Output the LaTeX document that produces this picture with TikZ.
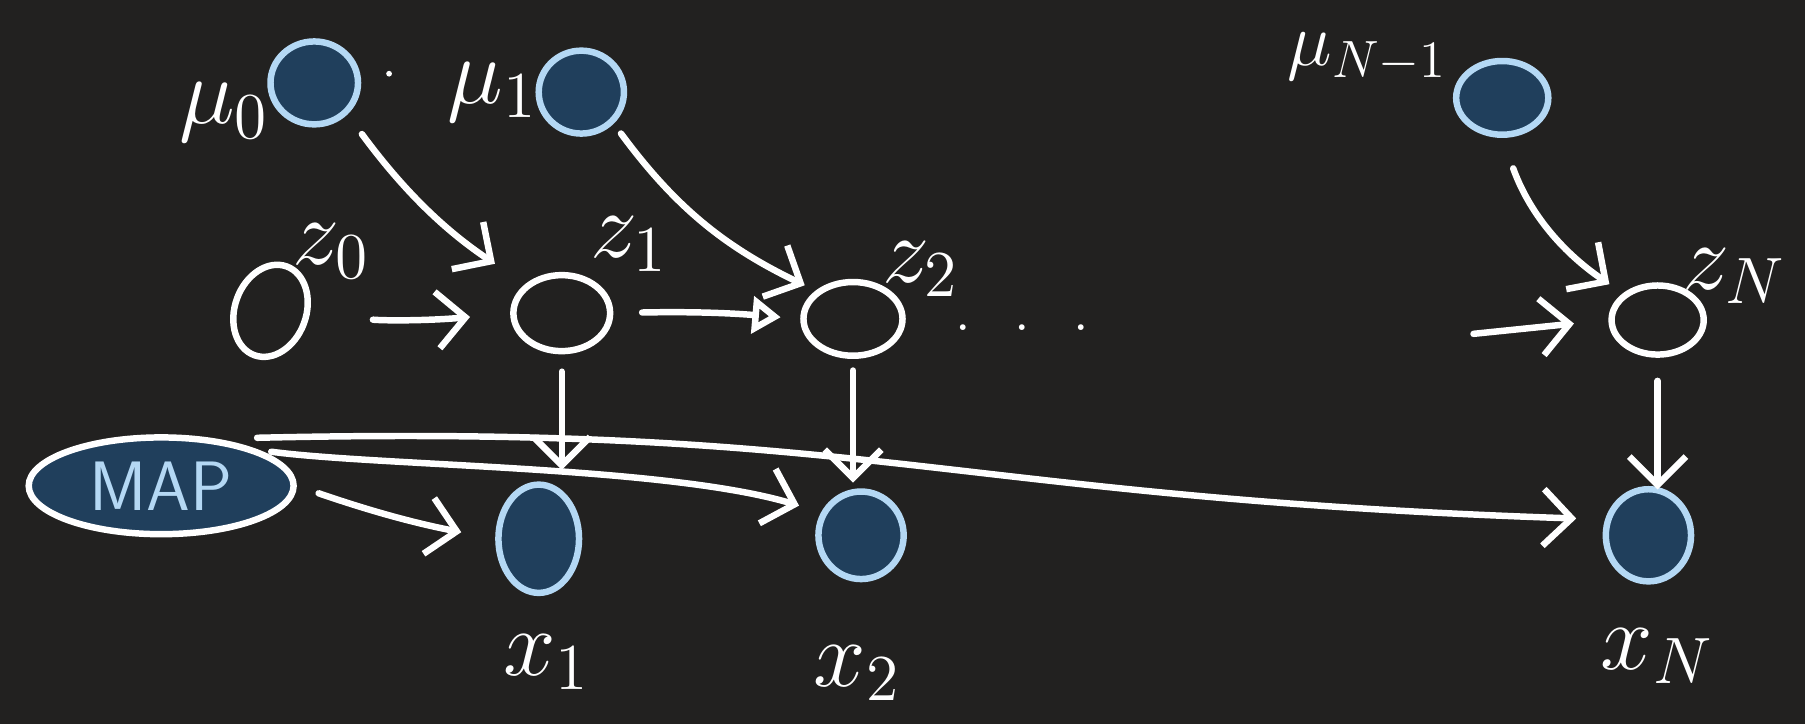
\documentclass[tikz,border=0pt]{standalone}
\usetikzlibrary{arrows.meta,shapes.geometric}
\definecolor{board}{HTML}{222120}
\definecolor{obsfill}{HTML}{203F5C}
\definecolor{obsring}{HTML}{B4D8F4}
\begin{document}
\begin{tikzpicture}[x=0.01cm,y=-0.01cm,
  pen/.style={draw=white, line width=1.6pt, line cap=round, line join=round},
  latent/.style={ellipse, draw=white, line width=1.6pt, inner sep=0pt},
  observed/.style={ellipse, fill=obsfill, draw=obsring, line width=1.6pt, inner sep=0pt},
  lbl/.style={text=white, font=\LARGE, scale=1.35, inner sep=0pt},
  arr/.style={pen, -{Straight Barb[length=7pt,width=14pt,line width=1.6pt]}},
  tri/.style={pen, -{Triangle[open,length=7pt,width=9pt,line width=1.6pt]}},
]
\fill[board] (0,0) rectangle (1568,629);
\useasboundingbox (0,0) rectangle (1568,629);

% means of the transitions
\node[observed, minimum width=0.76cm, minimum height=0.72cm] (mu0) at (273,72) {};
\node[observed, minimum width=0.74cm, minimum height=0.72cm] (mu1) at (505,80) {};
\node[observed, minimum width=0.80cm, minimum height=0.64cm] (muN) at (1305,85) {};
\node[lbl] (lmu0) at (195,98) {$\mu_0$};
\node[lbl] (lmu1) at (428,80) {$\mu_1$};
\node[lbl, scale=0.8] (lmuN) at (1188,50) {$\mu_{N-1}$};
\fill[white] (338,64) circle (2.5);

% latent chain
\node[latent, minimum width=0.62cm, minimum height=0.82cm, rotate=-20] (z0) at (235,270) {};
\node[latent, minimum width=0.84cm, minimum height=0.66cm] (z1) at (488,272) {};
\node[latent, minimum width=0.86cm, minimum height=0.64cm] (z2) at (741,277) {};
\node[latent, minimum width=0.80cm, minimum height=0.60cm] (zN) at (1440,278) {};
\node[lbl] (lz0) at (288,218) {$z_0$};
\node[lbl] (lz1) at (547,212) {$z_1$};
\node[lbl] (lz2) at (800,234) {$z_2$};
\node[lbl] (lzN) at (1507,240) {$z_N$};
\node[text=white, font=\LARGE, anchor=base] (dots) at (888,287) {.\hspace{0.36cm}.\hspace{0.36cm}.};
\coordinate (zin) at (1280,290);

% observations
\node[observed, draw=white, minimum width=2.30cm, minimum height=0.84cm] (map) at (140,422)
  {\textcolor{obsring}{\sffamily\LARGE MAP}};
\node[observed, minimum width=0.70cm, minimum height=0.94cm] (x1) at (468,468) {};
\node[observed, minimum width=0.74cm, minimum height=0.76cm] (x2) at (748,465) {};
\node[observed, minimum width=0.74cm, minimum height=0.80cm] (xN) at (1432,465) {};
\node[lbl] (lx1) at (475,575) {$x_1$};
\node[lbl] (lx2) at (745,585) {$x_2$};
\node[lbl] (lxN) at (1440,570) {$x_N$};

% connectors
\draw[arr, shorten <=6pt, shorten >=9pt] (mu0.south east) to[bend right=10] (z1.north west);
\draw[arr, shorten <=3pt, shorten >=3pt] (mu1.south east) to[bend right=14] (z2.north west);
\draw[arr, shorten <=8pt, shorten >=4pt] (muN.south) to[bend right=18] (zN.north west);

\draw[arr, shorten <=0.55cm, shorten >=0.35cm] (z0) to[bend right=5] (z1.west);
\draw[tri, shorten <=0.25cm, shorten >=0.17cm] (z1.east) to[bend left=3] (z2.west);
\draw[arr, shorten >=0.3cm] (zin) -- (zN.west);

\draw[arr, shorten <=0.15cm, shorten >=0.1cm] (z1.south) -- (z1.south |- x1.north);
\draw[arr, shorten <=0.1cm, shorten >=0.05cm] (z2.south) -- (z2.south |- x2.north);
\draw[arr, shorten <=0.2cm, shorten >=-0.03cm] (zN.south) -- (zN.south |- xN.north);

\draw[arr, shorten <=0.2cm, shorten >=0.3cm] (map.east) to[bend right=4] (x1.west);
\draw[arr, shorten <=3pt, shorten >=0.2cm] (map.20) .. controls (330,405) and (580,405) .. (x2.150);
\draw[arr, shorten >=0.25cm] ([shift={(0,-10)}]map.north east) .. controls (760,368) and (820,432) .. (xN.160);
\end{tikzpicture}
\end{document}
